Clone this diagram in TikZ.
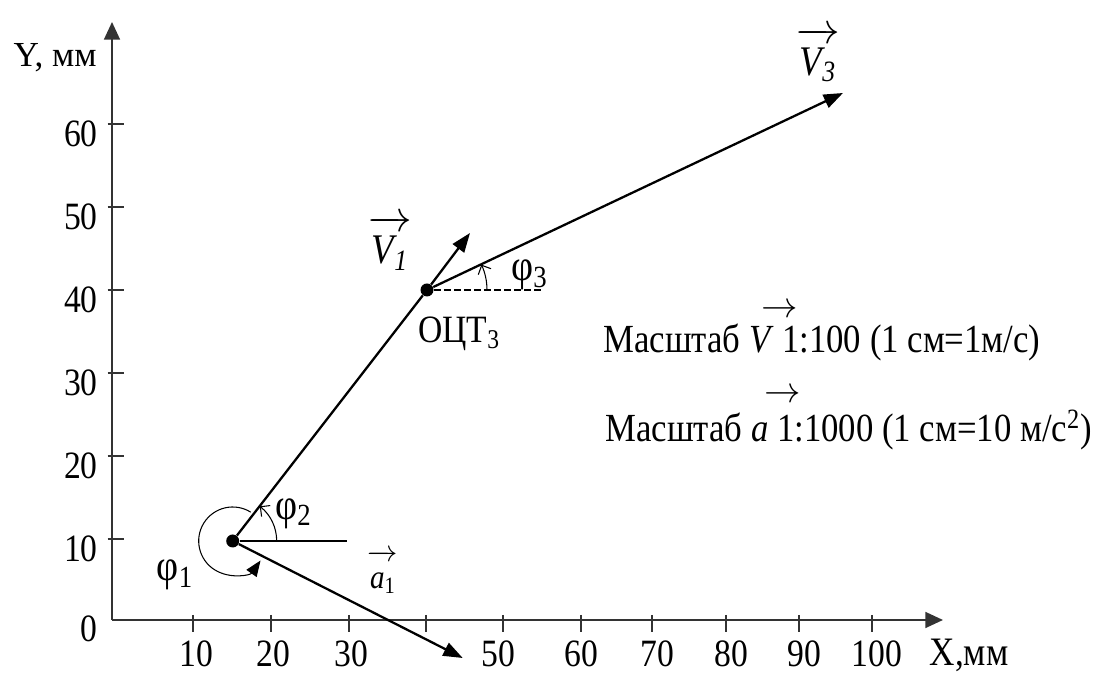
\documentclass[tikz,border=0pt]{standalone}
\usepackage{fontspec}
\setmainfont[FakeStretch=0.87]{Liberation Serif}
\newfontfamily\plainfont{Liberation Serif}
\usepackage{amsmath}
\usetikzlibrary{arrows.meta,calc}

\begin{document}
\begin{tikzpicture}[
  axisc/.style={draw=black!80, line width=1.1pt, -{Triangle[length=10pt,width=9pt]}},
  tickc/.style={draw=black!80, line width=0.8pt},
  vec/.style={line width=1.3pt, -{Triangle[length=11pt,width=8pt]}},
  angarc/.style={line width=0.6pt},
  lbl/.style={inner sep=0pt, font=\fontsize{22}{26}\selectfont},
  phil/.style={inner sep=0pt, font=\fontsize{25}{30}\selectfont},
  dot/.style={circle, fill=black, inner sep=0pt, minimum size=0.26cm}]
  \useasboundingbox (0,0) rectangle (22.04,13.46);
  % axes
  \coordinate (O) at (2.24,1.06);
  \coordinate (ytop) at (2.24,13.02);
  \coordinate (xend) at (18.86,1.06);
  \draw[axisc] (O) -- (ytop);
  \draw[axisc] (O) -- (xend);
  \node[lbl, anchor=east, font=\fontsize{20}{24}\selectfont\plainfont] at (1.94,12.30) {Y, мм};
  \node[lbl, font=\fontsize{23}{27}\selectfont] at (19.38,0.36) {X,мм};
  % y ticks
  \draw[tickc] (2.15,10.98) -- (2.47,10.98);
  \node[lbl, anchor=base east] at (1.96,10.52) {60};
  \draw[tickc] (2.15,9.32) -- (2.47,9.32);
  \node[lbl, anchor=base east] at (1.96,8.86) {50};
  \draw[tickc] (2.15,7.66) -- (2.47,7.66);
  \node[lbl, anchor=base east] at (1.96,7.20) {40};
  \draw[tickc] (2.15,6.00) -- (2.47,6.00);
  \node[lbl, anchor=base east] at (1.96,5.54) {30};
  \draw[tickc] (2.15,4.34) -- (2.47,4.34);
  \node[lbl, anchor=base east] at (1.96,3.88) {20};
  \draw[tickc] (2.15,2.68) -- (2.47,2.68);
  \node[lbl, anchor=base east] at (1.96,2.22) {10};
  \node[lbl, anchor=base east] at (1.96,0.62) {0};
  % x ticks
  \draw[tickc] (3.86,1.16) -- (3.86,0.82);
  \node[lbl, anchor=base] at (3.93,0.12) {10};
  \draw[tickc] (5.42,1.16) -- (5.42,0.82);
  \node[lbl, anchor=base] at (5.46,0.12) {20};
  \draw[tickc] (6.98,1.16) -- (6.98,0.82);
  \node[lbl, anchor=base] at (7.03,0.12) {30};
  \draw[tickc] (8.52,1.16) -- (8.52,0.82);
  \draw[tickc] (10.06,1.16) -- (10.06,0.82);
  \node[lbl, anchor=base] at (9.96,0.12) {50};
  \draw[tickc] (11.62,1.16) -- (11.62,0.82);
  \node[lbl, anchor=base] at (11.62,0.12) {60};
  \draw[tickc] (13.04,1.16) -- (13.04,0.82);
  \node[lbl, anchor=base] at (13.15,0.12) {70};
  \draw[tickc] (14.52,1.16) -- (14.52,0.82);
  \node[lbl, anchor=base] at (14.62,0.12) {80};
  \draw[tickc] (15.98,1.16) -- (15.98,0.82);
  \node[lbl, anchor=base] at (16.09,0.12) {90};
  \draw[tickc] (17.44,1.16) -- (17.44,0.82);
  \node[lbl, anchor=base] at (17.54,0.12) {100};
  % points and vectors
  \node[dot] (P1) at (4.654,2.64) {};
  \node[dot] (P2) at (8.54,7.66) {};
  \coordinate (v1) at (9.40,8.80);
  \coordinate (v3) at (16.86,11.60);
  \coordinate (a1) at (9.254,0.30);
  \coordinate (h1) at (6.934,2.64);
  \coordinate (h2) at (10.834,7.66);
  \draw[line width=1.3pt] (P1) -- (P2);
  \draw[vec] (P2) -- (v3);
  \draw[vec] (P2) -- (v1);
  \draw[vec] (P1) -- (a1);
  \draw[line width=0.9pt] (P1) -- (h1);
  \draw[line width=1.4pt, dash pattern=on 3.8pt off 1.9pt] (P2) -- (h2);
  % angles
  \draw[angarc, -{Triangle[length=9pt,width=7pt]}] ([shift={(58:0.68)}]P1.center)
    arc[start angle=58, end angle=325, radius=0.68];
  \draw[angarc, -{Straight Barb[length=4pt,width=8pt]}] ([shift={(0:0.88)}]P1.center)
    arc[start angle=0, end angle=52, radius=0.88];
  \draw[angarc, -{Straight Barb[length=4pt,width=8pt]}] ([shift={(0:1.2)}]P2.center)
    arc[start angle=0, end angle=25, radius=1.2];
  \node[phil] (phi1) at (3.50,1.96) {φ\textsubscript{1}};
  \node[phil] (phi2) at (5.87,3.19) {φ\textsubscript{2}};
  \node[phil] (phi3) at (10.59,7.96) {φ\textsubscript{3}};
  % labels
  \node[lbl, font=\fontsize{24}{28}\selectfont] (lv1) at (7.80,8.60)
    {$\overrightarrow{\hbox{\rule{0pt}{0.75em}\textit{V\textsubscript{1}}}}$};
  \node[lbl, font=\fontsize{24}{28}\selectfont] (lv3) at (16.36,12.36)
    {$\overrightarrow{\hbox{\rule{0pt}{0.75em}\textit{V\textsubscript{3}}}}$};
  \node[lbl, font=\fontsize{19}{23}\selectfont] (la1) at (7.66,2.02)
    {$\overrightarrow{\hbox{\rule{0pt}{0.8em}\textit{a}\textsubscript{1}}}$};
  \node[lbl, anchor=north west] (ocl) at (8.36,7.12) {ОЦТ\textsubscript{3}};
  \node[lbl, anchor=base west, font=\fontsize{22.7}{27}\selectfont] (sc1) at (12.06,6.40)
    {Масштаб \textit{V}\rlap{\kern-0.3em\raisebox{0.9em}{$\rightarrow$}} 1:100 (1 см=1м/с)};
  \node[lbl, anchor=base west, font=\fontsize{22.7}{27}\selectfont] (sc2) at (12.10,4.62)
    {Масштаб \textit{a}\rlap{\kern-0.1em\raisebox{1.0em}{$\rightarrow$}} 1:1000 (1 см=10 м/с\textsuperscript{2})};
\end{tikzpicture}
\end{document}
